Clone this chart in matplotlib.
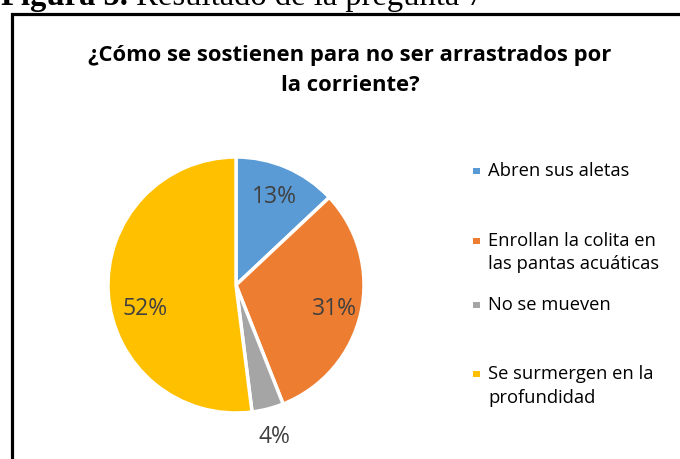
import matplotlib
matplotlib.use("Agg")
import matplotlib.pyplot as plt
from matplotlib.patches import Rectangle
import numpy as np

categories = ["Abren sus aletas",
              "Enrollan la colita en\nlas pantas acuáticas",
              "No se mueven",
              "Se surmergen en la\nprofundidad"]
values = [13, 31, 4, 52]
colors = ["#5B9BD5", "#ED7D31", "#A5A5A5", "#FFC000"]
title_lines = ["¿Cómo se sostienen para no ser arrastrados por", "la corriente?"]
header_bold = "Figura 5."
header_rest = " Resultado de la pregunta 7"

W, H = 680, 459
fig = plt.figure(figsize=(W / 100, H / 100), dpi=100)
fig.patch.set_facecolor("white")
renderer = fig.canvas.get_renderer()

SANS = ["Open Sans", "DejaVu Sans"]

# header (partially cut off at top)
t1 = fig.text(1 / W, 1 - 5 / H, header_bold, fontsize=23.5, fontweight="bold",
              family=["Liberation Serif"], va="baseline", ha="left")
bb = t1.get_window_extent(renderer=renderer)
fig.text(bb.x1 / W, 1 - 5 / H, header_rest, fontsize=23.5,
         family=["Liberation Serif"], va="baseline", ha="left")

# chart frame
fig.patches.append(Rectangle((12 / W, -0.2), 1.2, 1 - 14 / H + 0.2,
                             transform=fig.transFigure, fill=False,
                             edgecolor="black", linewidth=2.3))

# title
for ln, yb in zip(title_lines, [61, 91]):
    fig.text(350 / W, 1 - yb / H, ln, fontsize=15.8, fontweight="bold",
             family=SANS, ha="center", va="baseline", color="#000000")

# pie
cx, cy, r = 236, 285, 128
ax = fig.add_axes([(cx - r) / W, (H - cy - r) / H, 2 * r / W, 2 * r / H])
wedges, texts, autotexts = ax.pie(
    values, colors=colors, startangle=90, counterclock=False,
    autopct="%1.0f%%", pctdistance=0.76,
    wedgeprops=dict(edgecolor="white", linewidth=2.5),
    textprops=dict(fontsize=16.5, color="#404040", family=SANS))
ax.set_xlim(-1, 1)
ax.set_ylim(-1, 1)
ax.set_aspect("equal")
ax.axis("off")

# data-label placement (layout, in pie radius units)
label_pos = [(0.30, 0.69), (0.77, -0.19), (0.30, -1.19), (-0.71, -0.19)]
for t, p in zip(autotexts, label_pos):
    t.set_position(p)

# legend
legend_y = [171, [241, 264], 305, [374, 398]]
for lab, col, ys in zip(categories, colors, legend_y):
    ylist = [ys] if np.isscalar(ys) else ys
    y0 = ylist[0]
    fig.patches.append(Rectangle((473 / W, 1 - (y0 + 3) / H), 6.5 / W, 6.5 / H,
                                 transform=fig.transFigure, facecolor=col,
                                 edgecolor="none"))
    for ln, yy in zip(lab.split("\n"), ylist):
        fig.text(488 / W, 1 - (yy + 5) / H, ln, fontsize=13.2, family=SANS,
                 color="#000000", ha="left", va="baseline")

fig.savefig("out.png", dpi=100, facecolor="white")
